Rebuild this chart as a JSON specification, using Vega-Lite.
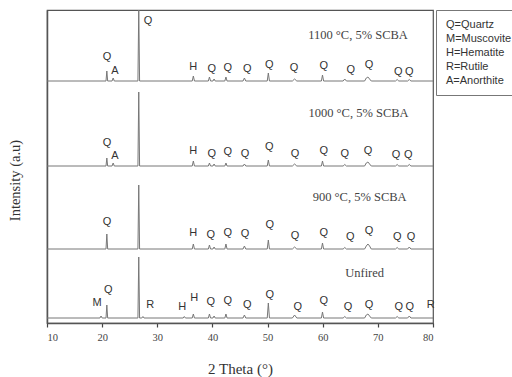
{
  "$schema": "https://vega.github.io/schema/vega-lite/v6.json",
  "width": 386,
  "height": 313,
  "autosize": {"type": "none"},
  "padding": {"left": 47, "top": 10, "right": 79, "bottom": 54},
  "background": "white",
  "config": {
    "view": {"stroke": "#555", "strokeWidth": 1.2},
    "axis": {"domainColor": "#555", "domainWidth": 1.5, "grid": false}
  },
  "datasets": {
    "xrd": [
      {"s":"1100","x":10,"y":242},
      {"s":"1100","x":20.7,"y":242},{"s":"1100","x":20.85,"y":252},{"s":"1100","x":21.0,"y":242},
      {"s":"1100","x":21.8,"y":242},{"s":"1100","x":22.0,"y":245},{"s":"1100","x":22.2,"y":242},
      {"s":"1100","x":26.49,"y":242},{"s":"1100","x":26.64,"y":316},{"s":"1100","x":26.79,"y":242},
      {"s":"1100","x":36.34,"y":242},{"s":"1100","x":36.54,"y":247},{"s":"1100","x":36.74,"y":242},
      {"s":"1100","x":39.26,"y":242},{"s":"1100","x":39.46,"y":246},{"s":"1100","x":39.66,"y":242},
      {"s":"1100","x":40.1,"y":242},{"s":"1100","x":40.3,"y":244},{"s":"1100","x":40.5,"y":242},
      {"s":"1100","x":42.25,"y":242},{"s":"1100","x":42.45,"y":246},{"s":"1100","x":42.65,"y":242},
      {"s":"1100","x":45.55,"y":242},{"s":"1100","x":45.8,"y":245},{"s":"1100","x":46.05,"y":242},
      {"s":"1100","x":49.94,"y":242},{"s":"1100","x":50.14,"y":250},{"s":"1100","x":50.34,"y":242},
      {"s":"1100","x":54.5,"y":242},{"s":"1100","x":54.9,"y":244},{"s":"1100","x":55.3,"y":242},
      {"s":"1100","x":59.76,"y":242},{"s":"1100","x":59.96,"y":248},{"s":"1100","x":60.16,"y":242},
      {"s":"1100","x":63.7,"y":242},{"s":"1100","x":64.0,"y":244},{"s":"1100","x":64.3,"y":242},
      {"s":"1100","x":67.6,"y":242},{"s":"1100","x":67.9,"y":245},{"s":"1100","x":68.2,"y":246},{"s":"1100","x":68.5,"y":244},{"s":"1100","x":68.8,"y":242},
      {"s":"1100","x":73.2,"y":242},{"s":"1100","x":73.5,"y":243.5},{"s":"1100","x":73.8,"y":242},
      {"s":"1100","x":75.4,"y":242},{"s":"1100","x":75.7,"y":243.5},{"s":"1100","x":76.0,"y":242},
      {"s":"1100","x":80,"y":242},

      {"s":"1000","x":10,"y":157},
      {"s":"1000","x":20.7,"y":157},{"s":"1000","x":20.85,"y":165},{"s":"1000","x":21.0,"y":157},
      {"s":"1000","x":21.8,"y":157},{"s":"1000","x":22.0,"y":160},{"s":"1000","x":22.2,"y":157},
      {"s":"1000","x":26.49,"y":157},{"s":"1000","x":26.64,"y":231},{"s":"1000","x":26.79,"y":157},
      {"s":"1000","x":36.34,"y":157},{"s":"1000","x":36.54,"y":162},{"s":"1000","x":36.74,"y":157},
      {"s":"1000","x":39.26,"y":157},{"s":"1000","x":39.46,"y":160},{"s":"1000","x":39.66,"y":157},
      {"s":"1000","x":40.1,"y":157},{"s":"1000","x":40.3,"y":159},{"s":"1000","x":40.5,"y":157},
      {"s":"1000","x":42.25,"y":157},{"s":"1000","x":42.45,"y":160},{"s":"1000","x":42.65,"y":157},
      {"s":"1000","x":45.55,"y":157},{"s":"1000","x":45.8,"y":159},{"s":"1000","x":46.05,"y":157},
      {"s":"1000","x":49.94,"y":157},{"s":"1000","x":50.14,"y":163},{"s":"1000","x":50.34,"y":157},
      {"s":"1000","x":54.5,"y":157},{"s":"1000","x":54.9,"y":159},{"s":"1000","x":55.3,"y":157},
      {"s":"1000","x":59.76,"y":157},{"s":"1000","x":59.96,"y":162},{"s":"1000","x":60.16,"y":157},
      {"s":"1000","x":63.7,"y":157},{"s":"1000","x":64.0,"y":158.5},{"s":"1000","x":64.3,"y":157},
      {"s":"1000","x":67.6,"y":157},{"s":"1000","x":67.9,"y":160},{"s":"1000","x":68.2,"y":161},{"s":"1000","x":68.5,"y":159},{"s":"1000","x":68.8,"y":157},
      {"s":"1000","x":73.2,"y":157},{"s":"1000","x":73.5,"y":158.5},{"s":"1000","x":73.8,"y":157},
      {"s":"1000","x":75.4,"y":157},{"s":"1000","x":75.7,"y":158.5},{"s":"1000","x":76.0,"y":157},
      {"s":"1000","x":80,"y":157},

      {"s":"900","x":10,"y":74},
      {"s":"900","x":20.7,"y":74},{"s":"900","x":20.85,"y":89},{"s":"900","x":21.0,"y":74},
      {"s":"900","x":26.49,"y":74},{"s":"900","x":26.64,"y":138},{"s":"900","x":26.79,"y":74},
      {"s":"900","x":36.34,"y":74},{"s":"900","x":36.54,"y":79},{"s":"900","x":36.74,"y":74},
      {"s":"900","x":39.26,"y":74},{"s":"900","x":39.46,"y":78},{"s":"900","x":39.66,"y":74},
      {"s":"900","x":40.1,"y":74},{"s":"900","x":40.3,"y":76},{"s":"900","x":40.5,"y":74},
      {"s":"900","x":42.25,"y":74},{"s":"900","x":42.45,"y":79},{"s":"900","x":42.65,"y":74},
      {"s":"900","x":45.55,"y":74},{"s":"900","x":45.8,"y":77},{"s":"900","x":46.05,"y":74},
      {"s":"900","x":49.94,"y":74},{"s":"900","x":50.14,"y":83},{"s":"900","x":50.34,"y":74},
      {"s":"900","x":54.5,"y":74},{"s":"900","x":54.9,"y":76},{"s":"900","x":55.3,"y":74},
      {"s":"900","x":59.76,"y":74},{"s":"900","x":59.96,"y":80},{"s":"900","x":60.16,"y":74},
      {"s":"900","x":63.7,"y":74},{"s":"900","x":64.0,"y":75.5},{"s":"900","x":64.3,"y":74},
      {"s":"900","x":67.6,"y":74},{"s":"900","x":67.9,"y":77},{"s":"900","x":68.2,"y":79},{"s":"900","x":68.5,"y":77},{"s":"900","x":68.8,"y":74},
      {"s":"900","x":73.2,"y":74},{"s":"900","x":73.5,"y":75.5},{"s":"900","x":73.8,"y":74},
      {"s":"900","x":75.4,"y":74},{"s":"900","x":75.7,"y":76},{"s":"900","x":76.0,"y":74},
      {"s":"900","x":80,"y":74},

      {"s":"U","x":10,"y":5},
      {"s":"U","x":19.6,"y":5},{"s":"U","x":19.8,"y":7},{"s":"U","x":20.0,"y":5},
      {"s":"U","x":20.7,"y":5},{"s":"U","x":20.85,"y":18},{"s":"U","x":21.0,"y":5},
      {"s":"U","x":26.49,"y":5},{"s":"U","x":26.64,"y":66},{"s":"U","x":26.79,"y":5},
      {"s":"U","x":27.2,"y":5},{"s":"U","x":27.4,"y":6.5},{"s":"U","x":27.6,"y":5},
      {"s":"U","x":34.7,"y":5},{"s":"U","x":34.9,"y":6.5},{"s":"U","x":35.1,"y":5},
      {"s":"U","x":36.34,"y":5},{"s":"U","x":36.54,"y":9},{"s":"U","x":36.74,"y":5},
      {"s":"U","x":39.26,"y":5},{"s":"U","x":39.46,"y":9},{"s":"U","x":39.66,"y":5},
      {"s":"U","x":40.1,"y":5},{"s":"U","x":40.3,"y":7},{"s":"U","x":40.5,"y":5},
      {"s":"U","x":42.25,"y":5},{"s":"U","x":42.45,"y":9},{"s":"U","x":42.65,"y":5},
      {"s":"U","x":45.55,"y":5},{"s":"U","x":45.8,"y":8},{"s":"U","x":46.05,"y":5},
      {"s":"U","x":49.94,"y":5},{"s":"U","x":50.14,"y":20},{"s":"U","x":50.34,"y":5},
      {"s":"U","x":54.5,"y":5},{"s":"U","x":54.9,"y":8},{"s":"U","x":55.3,"y":5},
      {"s":"U","x":59.76,"y":5},{"s":"U","x":59.96,"y":11},{"s":"U","x":60.16,"y":5},
      {"s":"U","x":63.7,"y":5},{"s":"U","x":64.0,"y":6.5},{"s":"U","x":64.3,"y":5},
      {"s":"U","x":67.6,"y":5},{"s":"U","x":67.9,"y":8},{"s":"U","x":68.2,"y":9},{"s":"U","x":68.5,"y":7},{"s":"U","x":68.8,"y":5},
      {"s":"U","x":73.2,"y":5},{"s":"U","x":73.5,"y":6.5},{"s":"U","x":73.8,"y":5},
      {"s":"U","x":75.4,"y":5},{"s":"U","x":75.7,"y":7},{"s":"U","x":76.0,"y":5},
      {"s":"U","x":80,"y":5}
    ],
    "peaklabels": [
      {"x":20.9,"y":266,"t":"Q"},{"x":22.3,"y":252,"t":"A"},{"x":28.3,"y":302,"t":"Q"},
      {"x":36.5,"y":256,"t":"H"},{"x":39.9,"y":254,"t":"Q"},{"x":42.8,"y":255,"t":"Q"},{"x":46.3,"y":254,"t":"Q"},
      {"x":50.3,"y":258,"t":"Q"},{"x":54.8,"y":255,"t":"Q"},{"x":60.2,"y":257,"t":"Q"},{"x":65.1,"y":253,"t":"Q"},
      {"x":68.4,"y":258,"t":"Q"},{"x":73.7,"y":251,"t":"Q"},{"x":75.7,"y":251,"t":"Q"},

      {"x":20.9,"y":180,"t":"Q"},{"x":22.3,"y":167,"t":"A"},
      {"x":36.5,"y":172,"t":"H"},{"x":39.9,"y":169,"t":"Q"},{"x":42.8,"y":171,"t":"Q"},{"x":45.9,"y":169,"t":"Q"},
      {"x":50.3,"y":176,"t":"Q"},{"x":55.0,"y":169,"t":"Q"},{"x":60.2,"y":172,"t":"Q"},{"x":64.0,"y":169,"t":"Q"},
      {"x":68.2,"y":172,"t":"Q"},{"x":73.3,"y":168,"t":"Q"},{"x":75.5,"y":168,"t":"Q"},

      {"x":20.9,"y":101,"t":"Q"},
      {"x":36.5,"y":90,"t":"H"},{"x":39.7,"y":88,"t":"Q"},{"x":42.8,"y":90,"t":"Q"},{"x":45.9,"y":89,"t":"Q"},
      {"x":50.4,"y":98,"t":"Q"},{"x":55.0,"y":87,"t":"Q"},{"x":60.2,"y":90,"t":"Q"},{"x":65.0,"y":86,"t":"Q"},
      {"x":68.4,"y":92,"t":"Q"},{"x":73.5,"y":86,"t":"Q"},{"x":76.0,"y":86,"t":"Q"},

      {"x":19.1,"y":20,"t":"M"},{"x":21.1,"y":33,"t":"Q"},{"x":28.7,"y":18,"t":"R"},{"x":34.5,"y":16,"t":"H"},
      {"x":36.7,"y":25,"t":"H"},{"x":39.7,"y":21,"t":"Q"},{"x":42.8,"y":22,"t":"Q"},{"x":46.3,"y":18,"t":"Q"},
      {"x":50.4,"y":28,"t":"Q"},{"x":55.5,"y":16,"t":"Q"},{"x":60.2,"y":22,"t":"Q"},{"x":64.6,"y":16,"t":"Q"},
      {"x":68.4,"y":18,"t":"Q"},{"x":73.8,"y":16,"t":"Q"},{"x":75.8,"y":16,"t":"Q"},{"x":79.6,"y":18,"t":"R"}
    ],
    "names": [
      {"x":66.4,"y":288,"t":"1100 °C, 5% SCBA"},
      {"x":66.5,"y":210,"t":"1000 °C, 5% SCBA"},
      {"x":66.7,"y":126,"t":"900 °C, 5% SCBA"},
      {"x":67.6,"y":50,"t":"Unfired"}
    ],
    "legend": [
      {"e":"Q=Quartz","x":10,"y":0},
      {"e":"M=Muscovite","x":10,"y":0},
      {"e":"H=Hematite","x":10,"y":0},
      {"e":"R=Rutile","x":10,"y":0},
      {"e":"A=Anorthite","x":10,"y":0}
    ]
  },
  "layer": [
    {
      "data": {"name": "xrd"},
      "mark": {"type": "line", "stroke": "#777", "strokeWidth": 1, "clip": true},
      "encoding": {
        "x": {
          "field": "x", "type": "quantitative",
          "scale": {"domain": [10, 80], "nice": false},
          "axis": {
            "values": [10,15,20,25,30,35,40,45,50,55,60,65,70,75,80],
            "labelExpr": "datum.value % 10 === 0 ? datum.label : ''",
            "tickSize": 4,
            "tickColor": "#444", "tickWidth": 1.2,
            "labelFont": "Liberation Serif", "labelFontSize": 10.5, "labelColor": "#444", "labelPadding": 5,
            "title": "2 Theta (°)", "titleFont": "Liberation Serif", "titleFontSize": 15,
            "titleFontWeight": "normal", "titleColor": "#333", "titlePadding": 19
          }
        },
        "y": {
          "field": "y", "type": "quantitative",
          "scale": {"domain": [0, 313], "nice": false, "zero": false},
          "axis": {
            "ticks": false, "labels": false,
            "title": "Intensity (a.u)", "titleFont": "Liberation Serif", "titleFontSize": 14.5,
            "titleFontWeight": "normal", "titleColor": "#333", "titlePadding": 25, "titleY": 170
          }
        },
        "detail": {"field": "s", "type": "nominal"}
      }
    },
    {
      "data": {"name": "peaklabels"},
      "mark": {"type": "text", "font": "Liberation Sans", "fontSize": 11, "color": "#333", "baseline": "middle", "align": "center"},
      "encoding": {
        "x": {"field": "x", "type": "quantitative"},
        "y": {"field": "y", "type": "quantitative"},
        "text": {"field": "t", "type": "nominal"}
      }
    },
    {
      "data": {"name": "names"},
      "mark": {"type": "text", "font": "Liberation Serif", "fontSize": 12.5, "color": "#444", "baseline": "middle", "align": "center"},
      "encoding": {
        "x": {"field": "x", "type": "quantitative"},
        "y": {"field": "y", "type": "quantitative"},
        "text": {"field": "t", "type": "nominal"}
      }
    },
    {
      "data": {"name": "legend"},
      "mark": {"type": "point", "opacity": 0},
      "encoding": {
        "x": {"field": "x", "type": "quantitative"},
        "y": {"field": "y", "type": "quantitative"},
        "color": {
          "field": "e", "type": "nominal",
          "scale": {"domain": ["Q=Quartz","M=Muscovite","H=Hematite","R=Rutile","A=Anorthite"], "range": ["#333","#333","#333","#333","#333"]},
          "legend": {
            "title": null, "orient": "right", "offset": 3,
            "symbolSize": 0.01, "symbolOpacity": 0, "labelOffset": -10,
            "labelFont": "Liberation Sans", "labelFontSize": 11, "labelColor": "#333", "labelLimit": 200,
            "rowPadding": 2, "padding": 9, "strokeColor": "#777"
          }
        }
      }
    }
  ]
}
